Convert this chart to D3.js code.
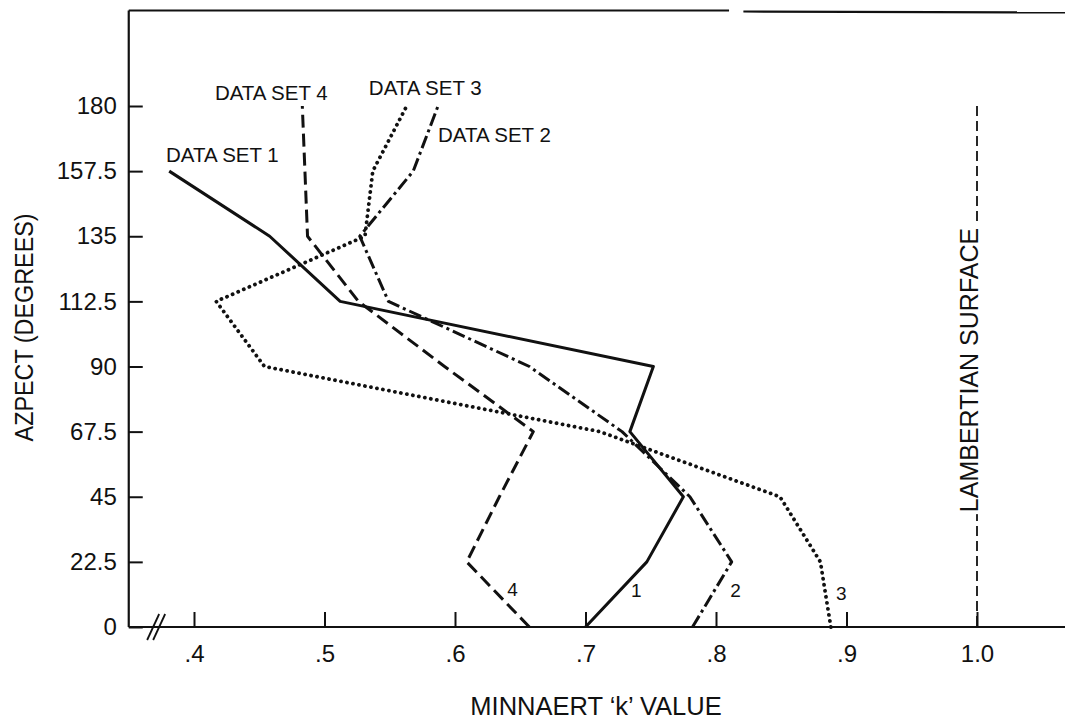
<!DOCTYPE html>
<html>
<head>
<meta charset="utf-8">
<script src="https://cdn.jsdelivr.net/npm/d3@7"></script>
<style>
body { margin: 0; background: #fff; }
text { font-family: "Liberation Sans", Arial, Helvetica, sans-serif; fill: #111; }
</style>
</head>
<body>
<div id="chart"></div>
<script>
// aspect values (degrees) for each row of the chart
const aspects = [0, 22.5, 45, 67.5, 90, 112.5, 135, 157.5, 180];
const aspectLabels = ["0", "22.5", "45", "67.5", "90", "112.5", "135", "157.5", "180"];

// Minnaert k, one value per aspect
const set1 = [0.700, 0.747, 0.775, 0.734, 0.752, 0.512, 0.458, 0.381];
const set2 = [0.782, 0.812, 0.780, 0.728, 0.657, 0.549, 0.527, 0.568, 0.587];
const set3 = [0.888, 0.880, 0.849, 0.711, 0.454, 0.417, 0.531, 0.537, 0.563];
const set4 = [0.657, 0.609, 0.634, 0.660, 0.592, 0.526, 0.487, 0.485, 0.483];

const kTicks = [0.4, 0.5, 0.6, 0.7, 0.8, 0.9, 1.0];
const kTickLabels = [".4", ".5", ".6", ".7", ".8", ".9", "1.0"];

const lambertK = 1.0;

const W = 1065, H = 722;
const ink = "#111";

const svg = d3.select("#chart")
    .append("svg")
    .attr("width", W)
    .attr("height", H);

const x = d3.scaleLinear().domain([0.4, 1.0]).range([194, 977]);
const y = d3.scaleLinear().domain([0, 180]).range([627, 106]);

const kMin = 0.35, kMax = 1.07, aTop = 213;

// frame: left axis, bottom axis, top border (with the small gap in it)
const frame = svg.append("g").attr("stroke", ink).attr("stroke-width", 2.2).attr("fill", "none");
frame.append("line").attr("x1", x(kMin)).attr("x2", x(kMin)).attr("y1", y(aTop)).attr("y2", y(0));
frame.append("line").attr("x1", x(kMin)).attr("x2", x(kMax)).attr("y1", y(0)).attr("y2", y(0));
frame.append("line").attr("x1", x(kMin)).attr("x2", x(0.81)).attr("y1", y(aTop)).attr("y2", y(aTop));
frame.append("line").attr("x1", x(0.821)).attr("x2", x(kMax)).attr("y1", y(aTop) + 1).attr("y2", y(aTop) + 2);

// axis break marks
[-3, 3].forEach(d => {
    frame.append("line")
        .attr("x1", x(0.371) + d - 6).attr("y1", y(0) + 13)
        .attr("x2", x(0.371) + d + 6).attr("y2", y(0) - 13)
        .attr("stroke-width", 1.8);
});

// Y axis
const yAxis = svg.append("g")
    .attr("transform", `translate(${x(kMin)},0)`)
    .call(d3.axisLeft(y)
        .tickValues(aspects)
        .tickFormat((d, i) => aspectLabels[i])
        .tickSizeInner(-14)
        .tickSizeOuter(0)
        .tickPadding(12));
yAxis.select(".domain").remove();
yAxis.selectAll("line").attr("stroke", ink).attr("stroke-width", 2);
yAxis.selectAll("text").style("font-size", "24px").attr("fill", ink)
    .style("font-family", "'Liberation Sans', Arial, sans-serif");

// X axis
const xAxis = svg.append("g")
    .attr("transform", `translate(0,${y(0)})`)
    .call(d3.axisBottom(x)
        .tickValues(kTicks)
        .tickFormat((d, i) => kTickLabels[i])
        .tickSizeInner(-15)
        .tickSizeOuter(0)
        .tickPadding(18));
xAxis.select(".domain").remove();
xAxis.selectAll("line").attr("stroke", ink).attr("stroke-width", 2);
xAxis.selectAll("text").style("font-size", "24px").attr("fill", ink)
    .style("font-family", "'Liberation Sans', Arial, sans-serif");

// axis titles
svg.append("text")
    .attr("x", 596).attr("y", 715)
    .attr("text-anchor", "middle")
    .attr("font-size", 25.5)
    .text("MINNAERT \u2018k\u2019 VALUE");

svg.append("text")
    .attr("transform", `translate(33,${y(103.5)}) rotate(-90)`)
    .attr("text-anchor", "middle")
    .attr("font-size", 25)
    .attr("textLength", 228)
    .attr("lengthAdjust", "spacingAndGlyphs")
    .text("AZPECT (DEGREES)");

// lambertian reference line
svg.append("line")
    .attr("x1", x(lambertK)).attr("x2", x(lambertK))
    .attr("y1", y(180)).attr("y2", y(0))
    .attr("stroke", ink).attr("stroke-width", 1.8)
    .attr("stroke-dasharray", "10 5");

const lam = svg.append("g")
    .attr("transform", `translate(${x(lambertK) + 1},${y(88.8)}) rotate(-90)`);
const lamText = lam.append("text")
    .attr("text-anchor", "middle")
    .attr("font-size", 25)
    .text("LAMBERTIAN SURFACE");
const bb = lamText.node().getBBox();
lam.insert("rect", "text")
    .attr("x", bb.x - 2).attr("y", bb.y)
    .attr("width", bb.width + 4).attr("height", bb.height + 6)
    .attr("fill", "#fff");

// data lines
const series = [
    { vals: set1, dash: null, cap: "butt", w: 3 },
    { vals: set2, dash: "13 4 3 4", cap: "butt", w: 3 },
    { vals: set3, dash: "0.1 6", cap: "round", w: 3.8 },
    { vals: set4, dash: "13 6", cap: "butt", w: 3 }
];

const line = d3.line()
    .x(d => x(d[0]))
    .y(d => y(d[1]));

series.forEach(s => {
    const pts = s.vals.map((v, i) => [v, aspects[i]]);
    svg.append("path")
        .datum(pts)
        .attr("d", line)
        .attr("fill", "none")
        .attr("stroke", ink)
        .attr("stroke-width", s.w)
        .attr("stroke-linejoin", "round")
        .attr("stroke-linecap", s.cap)
        .attr("stroke-dasharray", s.dash);
});

// series labels
const lab = svg.append("g").attr("font-size", 20.5);
lab.append("text").attr("x", x(0.3785)).attr("y", y(160.7)).text("DATA SET 1");
lab.append("text").attr("x", x(0.416)).attr("y", y(182.1)).text("DATA SET 4");
lab.append("text").attr("x", x(0.534)).attr("y", y(183.8)).text("DATA SET 3");
lab.append("text").attr("x", x(0.587)).attr("y", y(167.6)).text("DATA SET 2");

const num = svg.append("g").attr("font-size", 19).attr("text-anchor", "middle");
num.append("text").attr("x", x(0.739)).attr("y", y(10.4)).text("1");
num.append("text").attr("x", x(0.815)).attr("y", y(10.4)).text("2");
num.append("text").attr("x", x(0.896)).attr("y", y(9.3)).text("3");
num.append("text").attr("x", x(0.644)).attr("y", y(10.7)).text("4");
</script>
</body>
</html>
